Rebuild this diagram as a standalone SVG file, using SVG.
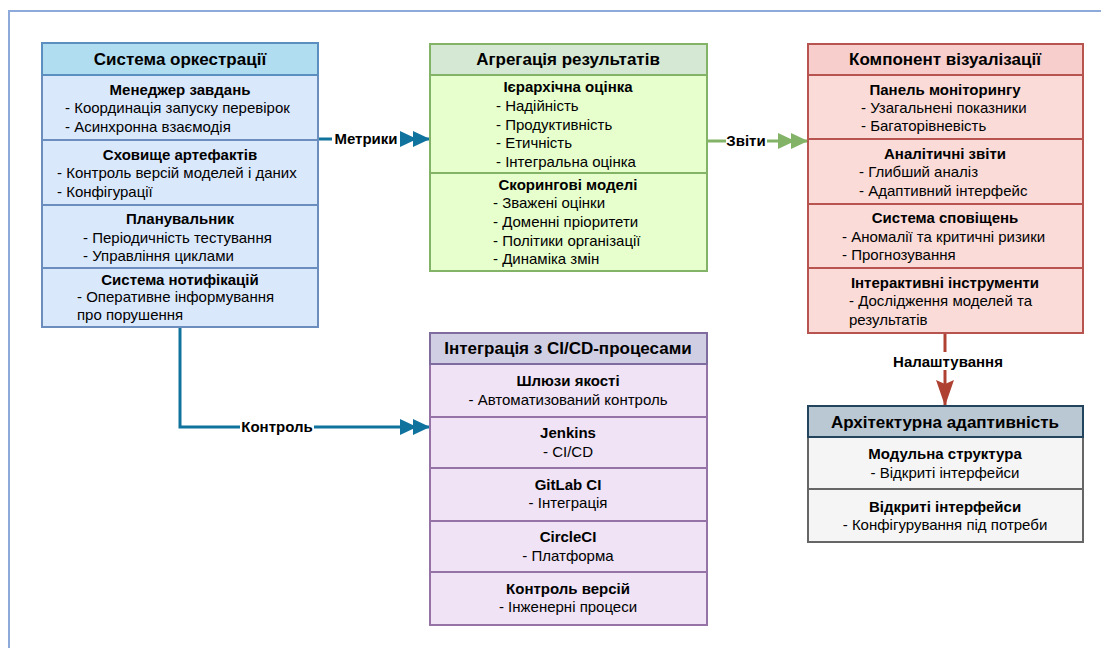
<svg xmlns="http://www.w3.org/2000/svg" width="1101" height="648" viewBox="0 0 1101 648">
<defs>
<style>
text{font-family:"Liberation Sans",Arial,sans-serif;fill:#000}
.h{font-size:17px;font-weight:bold;text-anchor:middle}
.t{font-size:15px;font-weight:bold;text-anchor:middle}
.i{font-size:15px}
.c{text-anchor:middle}
.lbl{font-size:15px;font-weight:bold;text-anchor:middle}
.b1h{fill:#b1ddf0;stroke:#5b8fc0;stroke-width:2}
.b1{fill:#dae8fc;stroke:#6c8ebf;stroke-width:2}
.b2h{fill:#d5e8d4;stroke:#82b366;stroke-width:2}
.b2{fill:#e6ffcc;stroke:#82b366;stroke-width:2}
.b3h{fill:#f8cecc;stroke:#b85450;stroke-width:2}
.b3{fill:#fadbd8;stroke:#b85450;stroke-width:2}
.b4h{fill:#d0cee2;stroke:#7e6c9e;stroke-width:2}
.b4{fill:#efe3f5;stroke:#9673a6;stroke-width:2}
.b5h{fill:#bac8d3;stroke:#23445d;stroke-width:2}
.b5{fill:#f5f5f5;stroke:#666666;stroke-width:2}
.edge{fill:none;stroke-width:3}
.lb{fill:#fff}
</style>
<marker id="dblue" markerUnits="userSpaceOnUse" markerWidth="32" markerHeight="18" refX="30" refY="8" orient="auto" viewBox="0 0 32 18">
<path d="M0,0 L17,8 L0,16 Z M13,0 L30,8 L13,16 Z" fill="#10739e"/>
</marker>
<marker id="dgreen" markerUnits="userSpaceOnUse" markerWidth="32" markerHeight="18" refX="30" refY="8" orient="auto" viewBox="0 0 32 18">
<path d="M0,0 L17,8 L0,16 Z M13,0 L30,8 L13,16 Z" fill="#82b366"/>
</marker>
<marker id="red" markerUnits="userSpaceOnUse" markerWidth="28" markerHeight="20" refX="26" refY="9" orient="auto" viewBox="0 0 28 20">
<path d="M0,0 L26,9 L0,18 L4,9 Z" fill="#ae4132"/>
</marker>
</defs>
<rect x="9" y="11" width="1200" height="700" fill="none" stroke="#8eaadb" stroke-width="2"/>

<g id="connectors">
<path class="edge" d="M318,139 L430,139" stroke="#10739e" marker-end="url(#dblue)"/>
<rect class="lb" x="332" y="130" width="68" height="18"/>
<text class="lbl" x="366" y="144">Метрики</text>
<path class="edge" d="M707,141 L808,141" stroke="#82b366" marker-end="url(#dgreen)"/>
<rect class="lb" x="726" y="132" width="41" height="18"/>
<text class="lbl" x="746" y="146">Звіти</text>
<path class="edge" d="M180,327 L180,427 L430,427" stroke="#10739e" marker-end="url(#dblue)"/>
<rect class="lb" x="240" y="418" width="74" height="18"/>
<text class="lbl" x="277" y="432">Контроль</text>
<path class="edge" d="M945,333 L945,406" stroke="#ae4132" marker-end="url(#red)"/>
<rect class="lb" x="890" y="352" width="116" height="18"/>
<text class="lbl" x="948" y="367">Налаштування</text>
</g>

<g id="orchestration">
<rect class="b1" x="42" y="75" width="276" height="65"/>
<rect class="b1" x="42" y="140" width="276" height="65"/>
<rect class="b1" x="42" y="205" width="276" height="63"/>
<rect class="b1" x="42" y="268" width="276" height="59"/>
<rect class="b1h" x="42" y="43" width="276" height="32"/>
<text class="h" x="180" y="65">Система оркестрації</text>
<text class="t" x="180" y="95">Менеджер завдань</text>
<text class="i" x="65" y="113">- Координація запуску перевірок</text>
<text class="i" x="65" y="132">- Асинхронна взаємодія</text>
<text class="t" x="180" y="160">Сховище артефактів</text>
<text class="i" x="57" y="178">- Контроль версій моделей і даних</text>
<text class="i" x="57" y="197">- Конфігурації</text>
<text class="t" x="180" y="224">Планувальник</text>
<text class="i" x="83" y="243">- Періодичність тестування</text>
<text class="i" x="83" y="261">- Управління циклами</text>
<text class="t" x="180" y="285">Система нотифікацій</text>
<text class="i" x="77" y="302">- Оперативне інформування</text>
<text class="i" x="77" y="320">про порушення</text>
</g>

<g id="aggregation">
<rect class="b2" x="430" y="75" width="277" height="98"/>
<rect class="b2" x="430" y="173" width="277" height="98"/>
<rect class="b2h" x="430" y="44" width="277" height="31"/>
<text class="h" x="568" y="65">Агрегація результатів</text>
<text class="t" x="568" y="92">Ієрархічна оцінка</text>
<text class="i" x="496" y="111">- Надійність</text>
<text class="i" x="496" y="130">- Продуктивність</text>
<text class="i" x="496" y="148">- Етичність</text>
<text class="i" x="496" y="167">- Інтегральна оцінка</text>
<text class="t" x="568" y="190">Скорингові моделі</text>
<text class="i" x="493" y="208">- Зважені оцінки</text>
<text class="i" x="493" y="227">- Доменні пріоритети</text>
<text class="i" x="493" y="246">- Політики організації</text>
<text class="i" x="493" y="264">- Динаміка змін</text>
</g>

<g id="visualization">
<rect class="b3" x="808" y="75" width="275" height="64"/>
<rect class="b3" x="808" y="139" width="275" height="65"/>
<rect class="b3" x="808" y="204" width="275" height="64"/>
<rect class="b3" x="808" y="268" width="275" height="65"/>
<rect class="b3h" x="808" y="44" width="275" height="31"/>
<text class="h" x="945" y="65">Компонент візуалізації</text>
<text class="t" x="945" y="95">Панель моніторингу</text>
<text class="i" x="861" y="113">- Узагальнені показники</text>
<text class="i" x="861" y="131">- Багаторівневість</text>
<text class="t" x="945" y="159">Аналітичні звіти</text>
<text class="i" x="859" y="177">- Глибший аналіз</text>
<text class="i" x="859" y="196">- Адаптивний інтерфейс</text>
<text class="t" x="945" y="223">Система сповіщень</text>
<text class="i" x="842" y="242">- Аномалії та критичні ризики</text>
<text class="i" x="842" y="260">- Прогнозування</text>
<text class="t" x="945" y="288">Інтерактивні інструменти</text>
<text class="i" x="849" y="306">- Дослідження моделей та</text>
<text class="i" x="849" y="325">результатів</text>
</g>

<g id="cicd">
<rect class="b4" x="430" y="364" width="277" height="53"/>
<rect class="b4" x="430" y="417" width="277" height="51"/>
<rect class="b4" x="430" y="468" width="277" height="53"/>
<rect class="b4" x="430" y="521" width="277" height="51"/>
<rect class="b4" x="430" y="572" width="277" height="53"/>
<rect class="b4h" x="430" y="333" width="277" height="31"/>
<text class="h" x="568" y="354">Інтеграція з CI/CD-процесами</text>
<text class="t" x="568" y="386">Шлюзи якості</text>
<text class="i c" x="568" y="405">- Автоматизований контроль</text>
<text class="t" x="568" y="438">Jenkins</text>
<text class="i c" x="568" y="457">- CI/CD</text>
<text class="t" x="568" y="490">GitLab CI</text>
<text class="i c" x="568" y="508">- Інтеграція</text>
<text class="t" x="568" y="542">CircleCI</text>
<text class="i c" x="568" y="561">- Платформа</text>
<text class="t" x="568" y="594">Контроль версій</text>
<text class="i c" x="568" y="612">- Інженерні процеси</text>
</g>

<g id="adaptivity">
<rect class="b5" x="808" y="437" width="275" height="52"/>
<rect class="b5" x="808" y="489" width="275" height="53"/>
<rect class="b5h" x="808" y="406" width="275" height="31"/>
<text class="h" x="945" y="428">Архітектурна адаптивність</text>
<text class="t" x="945" y="459">Модульна структура</text>
<text class="i c" x="945" y="478">- Відкриті інтерфейси</text>
<text class="t" x="945" y="512">Відкриті інтерфейси</text>
<text class="i c" x="945" y="530">- Конфігурування під потреби</text>
</g>
</svg>
